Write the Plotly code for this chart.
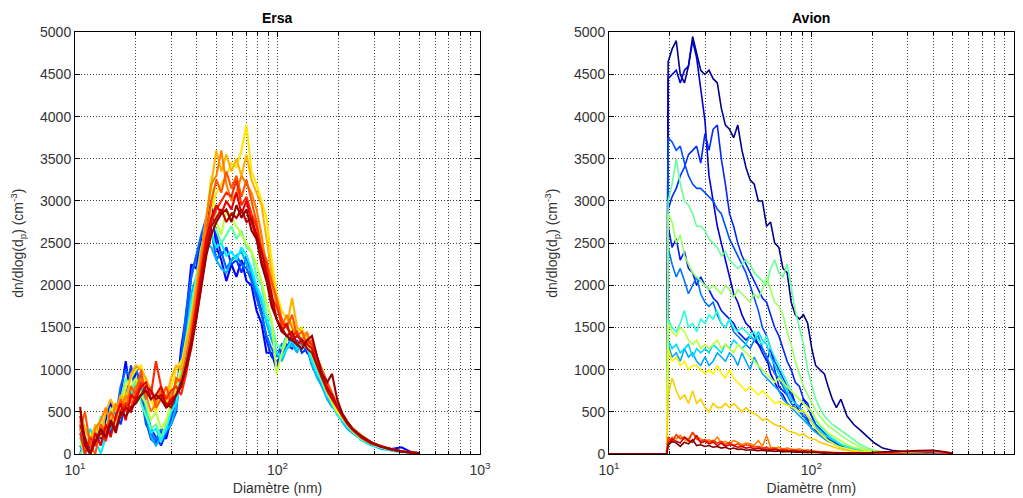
import plotly.graph_objects as go

# ---------------- data: Ersa (ground station) ----------------
diam_ersa = [10.6, 11.2, 11.9, 12.6, 13.4, 14.2, 15.0, 15.9, 16.8, 17.8,
             18.9, 20.0, 21.2, 22.4, 23.7, 25.1, 26.6, 28.2, 29.8, 31.6,
             33.4, 35.4, 37.5, 39.7, 42.0, 44.5, 47.1, 49.9, 52.8, 55.9,
             59.2, 62.7, 66.4, 70.3, 74.4, 78.8, 83.4, 88.3, 93.5, 99.0,
             105, 111, 118, 125, 132, 140, 148, 157, 166, 176,
             186, 197, 209, 221, 234, 260, 290, 325, 365, 410, 455, 500]

ersa_01 = [0, 150, 60, 250, 180, 400, 620, 380, 700, 1100,
           650, 1000, 820, 400, 180, 120, 260, 180, 420, 650,
           1250, 1650, 2250, 2200, 2550, 2700, 3000, 2450, 2300, 2050,
           2250, 2100, 2300, 2050, 2000, 1700, 1550, 1200, 1200, 1000,
           1250, 1400, 1300, 1250, 1350, 1200, 1150, 1000, 850, 750,
           620, 520, 420, 340, 290, 200, 140, 90, 60, 80, 25, 10]
ersa_15 = [100, 0, 150, 300, 200, 350, 250, 500, 350, 600,
           1050, 700, 950, 550, 300, 200, 100, 250, 350, 500,
           1100, 1500, 2100, 2350, 2450, 2650, 2800, 2600, 2350, 2450,
           2250, 2300, 2150, 2350, 2100, 1900, 1700, 1350, 1150, 1100,
           1150, 1300, 1250, 1350, 1200, 1250, 1050, 950, 800, 700,
           600, 520, 400, 330, 260, 180, 120, 85, 50, 30, 20, 5]
ersa_02 = [300, 100, 0, 200, 350, 280, 500, 450, 800, 1000,
           900, 1050, 700, 350, 250, 150, 300, 250, 450, 700,
           1100, 1700, 2100, 2350, 2600, 2800, 2650, 2300, 2400, 2200,
           2300, 2350, 2250, 2200, 2050, 1850, 1650, 1400, 1250, 1150,
           1300, 1250, 1400, 1300, 1250, 1300, 1100, 950, 800, 700,
           600, 480, 420, 330, 260, 190, 120, 80, 55, 30, 20, 8]
ersa_03 = [100, 0, 200, 300, 100, 250, 300, 550, 450, 750,
           800, 650, 900, 500, 200, 100, 200, 280, 350, 550,
           1000, 1400, 1900, 2100, 2350, 2500, 2450, 2300, 2200, 2150,
           2300, 2350, 2400, 2250, 2150, 1950, 1800, 1550, 1350, 1200,
           1100, 1250, 1300, 1200, 1400, 1300, 1050, 900, 800, 650,
           560, 500, 380, 300, 250, 170, 110, 60, 45, 25, 15, 5]
ersa_04 = [200, 0, 300, 150, 0, 200, 400, 300, 600, 500,
           700, 900, 750, 600, 250, 300, 150, 300, 500, 600,
           950, 1300, 1800, 2000, 2300, 2500, 2600, 2450, 2500, 2350,
           2400, 2300, 2450, 2350, 2200, 2000, 1850, 1600, 1450, 1200,
           1150, 1250, 1350, 1250, 1300, 1250, 1100, 950, 850, 700,
           600, 460, 400, 320, 270, 160, 100, 75, 40, 20, 15, 5]
ersa_05 = [0, 100, 200, 150, 450, 300, 550, 400, 650, 900,
           750, 850, 600, 450, 300, 350, 200, 350, 550, 750,
           1000, 1350, 1700, 2100, 2450, 2650, 2800, 2650, 2500, 2600,
           2700, 2550, 2650, 2450, 2400, 2100, 2000, 1650, 1550, 1300,
           1250, 1400, 1450, 1300, 1350, 1300, 1150, 1000, 850, 700,
           620, 500, 420, 340, 270, 200, 130, 90, 50, 30, 15, 5]
ersa_06 = [150, 0, 250, 100, 300, 200, 450, 350, 600, 700,
           800, 900, 700, 600, 400, 500, 300, 400, 600, 800,
           1050, 1350, 1650, 2000, 2400, 2800, 3300, 2750, 2600, 2900,
           2800, 2700, 2600, 2500, 2400, 2250, 2050, 1800, 1600, 950,
           1200, 1350, 1500, 1400, 1400, 1350, 1200, 1050, 900, 750,
           600, 500, 430, 350, 280, 180, 120, 80, 50, 30, 20, 5]
ersa_07 = [300, 200, 0, 250, 400, 300, 500, 600, 550, 800,
           900, 1000, 1050, 850, 650, 500, 700, 600, 800, 1000,
           1100, 1000, 1400, 1800, 2200, 2600, 2900, 3100, 3200, 3300,
           3450, 3400, 3600, 3900, 3350, 3200, 3000, 2800, 2300, 1900,
           1700, 1600, 1550, 1450, 1500, 1300, 1250, 1100, 900, 750,
           650, 520, 430, 350, 280, 190, 130, 85, 55, 30, 20, 8]
ersa_08 = [500, 300, 150, 350, 200, 500, 650, 500, 700, 600,
           950, 1050, 1000, 900, 750, 600, 800, 650, 900, 1050,
           1000, 1300, 1600, 2000, 2400, 2800, 3200, 3600, 3350, 3550,
           3350, 3500, 3300, 3550, 3250, 3100, 2950, 2550, 2150, 1750,
           1600, 1500, 1850, 1500, 1450, 1400, 1250, 1100, 950, 800,
           650, 560, 450, 350, 300, 200, 130, 85, 50, 30, 18, 8]
ersa_09 = [400, 100, 0, 300, 400, 550, 350, 600, 500, 700,
           600, 800, 900, 700, 500, 600, 750, 550, 700, 850,
           900, 1100, 1500, 1900, 2350, 2800, 3200, 3300, 3600, 3200,
           3000, 3100, 3300, 3200, 3100, 2900, 2600, 2200, 2000, 1800,
           1500, 1650, 1500, 1400, 1350, 1450, 1250, 1100, 950, 800,
           700, 580, 470, 380, 300, 210, 140, 90, 55, 30, 20, 8]
ersa_14 = [300, 500, 100, 0, 350, 250, 500, 400, 650, 500,
           800, 700, 1000, 650, 800, 550, 650, 800, 600, 900,
           850, 1150, 1450, 1800, 2250, 2600, 3000, 3250, 3100, 3350,
           3150, 3300, 3050, 3250, 3000, 2750, 2450, 2300, 2050, 1850,
           1600, 1500, 1650, 1400, 1450, 1300, 1350, 1150, 1000, 850,
           720, 600, 480, 390, 310, 220, 140, 95, 55, 35, 20, 8]
ersa_10 = [250, 0, 200, 100, 300, 150, 400, 300, 500, 600,
           550, 700, 850, 750, 700, 1100, 800, 650, 750, 800,
           700, 950, 1300, 1700, 2100, 2450, 2750, 2900, 3000, 3100,
           3050, 3250, 2950, 3050, 2850, 2700, 2400, 2250, 1850, 1750,
           1550, 1500, 1400, 1450, 1300, 1350, 1300, 1150, 950, 800,
           680, 570, 460, 370, 290, 200, 130, 90, 55, 30, 15, 5]
ersa_11 = [350, 150, 0, 250, 100, 350, 200, 450, 600, 400,
           700, 650, 800, 850, 650, 700, 800, 550, 650, 700,
           800, 1050, 1350, 1750, 2150, 2550, 2800, 2950, 2850, 3000,
           2900, 3100, 2850, 3000, 2750, 2550, 2300, 2100, 1800, 1600,
           1450, 1550, 1350, 1400, 1350, 1300, 1250, 1050, 900, 750,
           650, 550, 450, 360, 290, 190, 125, 85, 50, 30, 15, 5]
ersa_12 = [450, 200, 0, 150, 250, 200, 350, 300, 450, 550,
           500, 650, 700, 800, 750, 650, 700, 600, 550, 700,
           850, 1000, 1250, 1600, 2000, 2400, 2700, 2800, 2900, 2750,
           2850, 2800, 2900, 2750, 2800, 2600, 2400, 2150, 1900, 1600,
           1500, 1400, 1450, 1300, 1350, 1250, 1200, 1050, 900, 780,
           700, 560, 450, 370, 300, 200, 130, 85, 55, 30, 15, 5]
ersa_13 = [560, 100, 0, 150, 300, 200, 400, 250, 500, 450,
           550, 600, 700, 750, 650, 700, 650, 550, 600, 700,
           800, 1050, 1300, 1600, 1950, 2350, 2600, 2750, 2850, 2900,
           2750, 2950, 2800, 2900, 2650, 2550, 2250, 2050, 1750, 1600,
           1450, 1400, 1350, 1300, 1250, 1350, 1400, 1150, 950, 850,
           950, 650, 480, 380, 300, 210, 140, 85, 55, 30, 20, 10]

ersa_series = [ersa_01, ersa_15, ersa_02, ersa_03, ersa_04, ersa_05, ersa_06, ersa_07,
               ersa_08, ersa_09, ersa_14, ersa_10, ersa_11, ersa_12, ersa_13]
ersa_colors = ["#0000ff", "#0033ff", "#0066ff", "#00b3ff", "#00f2ff", "#59ffa6", "#bfff40",
               "#ffe600", "#ffb300", "#ff8000", "#ff5500", "#ff2600", "#e60000", "#bf0000",
               "#990000"]

# ---------------- data: Avion (aircraft) ----------------
diam_avion = [10, 19.3,
              19.6, 20.5, 21.5, 22.5, 23.6, 24.7, 25.9, 27.1, 28.4, 29.8,
              31.2, 32.7, 34.3, 35.9, 37.6, 39.4, 41.3, 43.3, 45.4, 47.5,
              49.8, 52.2, 54.7, 57.3, 60.1, 62.9, 65.9, 69.1, 72.4, 75.9,
              79.5, 83.3, 87.3, 91.5, 95.9, 100.5, 105, 110, 116, 121,
              127, 133, 140, 150, 162, 175, 190, 205, 225, 250,
              290, 340, 400, 450, 500]

avion_01 = [0, 0,
            4650, 4800, 4900, 4500, 4400, 4600, 4950, 4750, 4550, 4500,
            4550, 4450, 4400, 4100, 3900, 3850, 3750, 3900, 3600, 3400,
            3250, 3200, 3000, 3000, 2700, 2750, 2500, 2450, 2200, 2150,
            1800, 1650, 1600, 1650, 1550, 1250, 1050, 1000, 950, 800,
            650, 550, 650, 450, 350, 280, 200, 130, 70, 45,
            25, 15, 10, 8, 5]
avion_02 = [0, 0,
            4450, 4500, 4550, 4400, 4550, 4600, 4900, 4700, 4300, 3950,
            3300, 3000, 2700, 2500, 2300, 2100, 1900, 1800, 1650, 1550,
            1500, 1400, 1300, 1250, 1150, 950, 850, 750, 700, 600,
            550, 600, 500, 450, 400, 300, 280, 230, 200, 170,
            150, 120, 100, 80, 60, 45, 30, 20, 15, 10,
            5, 5, 3, 2, 0]
avion_03 = [0, 0,
            2900, 3050, 3150, 3300, 3400, 3550, 3600, 3650, 3450, 3800,
            3600, 3850, 3900, 3500, 3200, 2850, 2700, 2500, 2350, 2250,
            2150, 2050, 1950, 1850, 1800, 1650, 1500, 1400, 1250, 1100,
            1000, 850, 800, 650, 600, 450, 350, 300, 250, 200,
            170, 140, 110, 80, 60, 40, 30, 20, 15, 10,
            5, 3, 2, 2, 0]
avion_04 = [0, 0,
            3750, 3700, 3600, 3650, 3450, 3300, 3200, 3150, 3150, 3100,
            3050, 3000, 2900, 2850, 2700, 2550, 2450, 2350, 2250, 2150,
            2000, 1850, 1700, 1500, 1400, 1250, 1100, 1000, 900, 800,
            700, 600, 550, 500, 420, 380, 300, 250, 200, 180,
            150, 120, 100, 70, 50, 40, 25, 15, 10, 5,
            3, 2, 0, 0, 0]
avion_05 = [0, 0,
            2700, 2450, 2550, 2300, 2400, 2200, 2150, 2000, 2100, 2000,
            1950, 1850, 1800, 1700, 1650, 1600, 1550, 1450, 1400, 1350,
            1400, 1350, 1300, 1200, 1100, 1250, 1000, 800, 750, 700,
            750, 600, 550, 650, 550, 450, 350, 300, 250, 200,
            170, 130, 100, 80, 60, 40, 25, 15, 10, 5,
            3, 2, 0, 0, 0]
avion_06 = [0, 0,
            2450, 2250, 2100, 2200, 2050, 1900, 2000, 2100, 1900, 1800,
            1750, 1800, 1650, 1550, 1500, 1600, 1450, 1400, 1350, 1300,
            1250, 1350, 1400, 1250, 1150, 1050, 950, 900, 800, 700,
            600, 550, 500, 450, 380, 300, 260, 230, 180, 150,
            130, 110, 80, 70, 50, 35, 25, 15, 10, 5,
            3, 2, 0, 0, 0]
avion_07 = [0, 0,
            1300, 1150, 1200, 1100, 1250, 1150, 1200, 1100, 1050, 1150,
            1050, 1100, 1200, 1150, 1100, 1200, 1150, 1050, 1200, 1100,
            1000, 1150, 1050, 950, 900, 850, 800, 750, 650, 600,
            550, 500, 450, 400, 350, 300, 260, 220, 180, 150,
            130, 100, 80, 60, 45, 30, 20, 15, 10, 5,
            3, 2, 0, 0, 0]
avion_08 = [0, 0,
            1350, 1250, 1300, 1200, 1250, 1300, 1150, 1250, 1200, 1250,
            1200, 1300, 1250, 1200, 1300, 1250, 1350, 1300, 1250, 1300,
            1400, 1350, 1450, 1350, 1300, 1150, 1050, 950, 850, 750,
            650, 600, 550, 500, 450, 400, 330, 280, 230, 200,
            170, 140, 110, 80, 60, 45, 30, 20, 12, 6,
            4, 2, 0, 0, 0]
avion_09 = [0, 0,
            1600, 1500, 1450, 1550, 1700, 1500, 1550, 1450, 1600, 1550,
            1650, 1600, 1700, 1550, 1500, 1600, 1500, 1450, 1500, 1450,
            1400, 1450, 1350, 1300, 1400, 1250, 1150, 1050, 950, 850,
            750, 700, 650, 600, 550, 500, 400, 330, 280, 230,
            190, 160, 120, 90, 70, 50, 35, 25, 15, 8,
            4, 2, 0, 0, 0]
avion_10 = [0, 0,
            3000, 3200, 3500, 3200, 3000, 2950, 2850, 2700, 2700, 2650,
            2550, 2500, 2450, 2350, 2400, 2300, 2250, 2200, 2250, 2300,
            2250, 2150, 2100, 2050, 2000, 2200, 2300, 2150, 2100, 2250,
            1950, 1700, 1500, 1300, 1000, 800, 650, 550, 450, 400,
            350, 320, 280, 220, 170, 110, 70, 45, 25, 15,
            8, 4, 2, 0, 0]
avion_11 = [0, 0,
            2850, 2750, 2500, 2600, 2350, 2250, 2150, 2100, 2050, 2000,
            1950, 2000, 1950, 1900, 2000, 1950, 1850, 1950, 1900, 1850,
            1800, 1900, 1850, 1950, 2100, 1950, 1800, 1750, 1650, 1450,
            1300, 1100, 950, 800, 700, 600, 520, 450, 380, 330,
            300, 260, 220, 170, 120, 80, 50, 35, 20, 10,
            6, 3, 0, 0, 0]
avion_12 = [0, 0,
            1550, 1450, 1400, 1500, 1450, 1350, 1300, 1350, 1250, 1300,
            1250, 1300, 1350, 1250, 1300, 1250, 1200, 1300, 1250, 1200,
            1150, 1100, 1050, 1000, 950, 900, 850, 900, 850, 800,
            750, 700, 650, 600, 550, 500, 420, 350, 300, 250,
            220, 190, 150, 110, 80, 55, 35, 25, 15, 8,
            5, 3, 0, 0, 0]
avion_13 = [0, 0,
            1250, 1100, 1150, 1050, 1100, 1000, 1050, 1050, 1000, 950,
            1000, 950, 1050, 950, 900, 1000, 900, 850, 800, 750,
            800, 750, 700, 750, 700, 650, 600, 620, 600, 580,
            560, 540, 500, 520, 450, 380, 300, 250, 200, 160,
            130, 100, 80, 60, 45, 30, 20, 15, 10, 5,
            3, 2, 0, 0, 0]
avion_14 = [0, 0,
            700, 900, 750, 650, 700, 600, 750, 600, 650, 550,
            500, 600, 550, 550, 600, 550, 600, 550, 500, 550,
            500, 480, 450, 400, 420, 380, 350, 330, 320, 280,
            260, 250, 220, 240, 200, 180, 170, 140, 120, 100,
            80, 70, 55, 40, 30, 20, 15, 10, 5, 3,
            2, 0, 0, 0, 0]
avion_15 = [0, 0,
            150, 200, 180, 220, 170, 150, 250, 200, 180, 150,
            170, 140, 200, 130, 150, 120, 160, 140, 110, 130,
            120, 100, 160, 90, 220, 80, 70, 80, 60, 70,
            60, 50, 60, 45, 50, 40, 35, 30, 25, 20,
            20, 15, 15, 10, 10, 8, 5, 5, 3, 2,
            2, 0, 0, 0, 0]
avion_16 = [0, 0,
            200, 150, 230, 180, 200, 170, 260, 180, 150, 170,
            140, 160, 130, 150, 110, 140, 100, 120, 90, 110,
            100, 80, 90, 70, 80, 60, 70, 50, 55, 45,
            40, 50, 35, 40, 30, 30, 25, 20, 20, 15,
            15, 12, 10, 8, 8, 5, 5, 5, 3, 3,
            2, 2, 0, 0, 0]
avion_17 = [0, 0,
            120, 180, 150, 130, 200, 160, 140, 220, 130, 150,
            120, 140, 100, 130, 90, 110, 100, 80, 90, 70,
            80, 60, 70, 55, 60, 45, 55, 40, 45, 35,
            40, 35, 30, 35, 30, 25, 25, 20, 20, 15,
            15, 15, 10, 10, 10, 8, 10, 15, 20, 25,
            30, 35, 40, 30, 10]
avion_18 = [0, 0,
            100, 150, 130, 90, 140, 120, 170, 100, 110, 90,
            100, 80, 90, 70, 80, 60, 70, 55, 60, 45,
            50, 45, 40, 45, 35, 40, 30, 35, 25, 30,
            25, 20, 25, 20, 15, 20, 15, 15, 10, 15,
            10, 10, 15, 10, 10, 15, 10, 20, 25, 30,
            35, 40, 45, 25, 5]

avion_series = [avion_01, avion_02, avion_03, avion_04, avion_05, avion_06,
                avion_07, avion_08, avion_09, avion_10, avion_11, avion_12,
                avion_13, avion_14, avion_15, avion_16, avion_17, avion_18]
avion_colors = ["#00008c", "#0000d9", "#0026ff", "#004dff", "#0019f2", "#0073ff",
                "#00a6ff", "#00d9ff", "#26ffd9", "#66ff99", "#99ff66", "#bfff40",
                "#fff200", "#ffcc00", "#ff8000", "#ff3300", "#cc0000", "#800000"]

y_ticks = [0, 500, 1000, 1500, 2000, 2500, 3000, 3500, 4000, 4500, 5000]
x_ticks = [10, 100, 1000]
x_ticktext = ["10<sup>1</sup>", "10<sup>2</sup>", "10<sup>3</sup>"]
x_minor = [20, 30, 40, 50, 60, 70, 80, 90, 200, 300, 400, 500, 600, 700, 800, 900]

for s in ersa_series:
    assert len(s) == len(diam_ersa)
for s in avion_series:
    assert len(s) == len(diam_avion)

fig = go.Figure()
for ys, c in zip(ersa_series, ersa_colors):
    fig.add_trace(go.Scatter(x=diam_ersa, y=ys, mode="lines", xaxis="x", yaxis="y",
                             line=dict(color=c, width=2.1), showlegend=False, hoverinfo="skip"))
for ys, c in zip(avion_series, avion_colors):
    fig.add_trace(go.Scatter(x=diam_avion, y=ys, mode="lines", xaxis="x2", yaxis="y2",
                             line=dict(color=c, width=1.6), showlegend=False, hoverinfo="skip"))

FONT = "Liberation Sans, Arial, sans-serif"
grid_col = "rgba(0,0,0,0.75)"
GRID_DASH = "1px,2px"
W, H = 1015, 490   # page body keeps an 8px margin

def xaxis_cfg(domain, anchor):
    return dict(domain=domain, anchor=anchor, type="log", range=[1, 3],
                tickmode="array", tickvals=x_ticks, ticktext=x_ticktext,
                ticks="inside", ticklen=5, tickcolor="black", ticklabelstandoff=3,
                showline=True, linecolor="black", linewidth=1, mirror="ticks",
                showgrid=True, gridcolor=grid_col, griddash=GRID_DASH, gridwidth=1,
                minor=dict(tickmode="array", tickvals=x_minor, ticks="inside", ticklen=3,
                           tickcolor="black", showgrid=True, gridcolor=grid_col,
                           griddash=GRID_DASH, gridwidth=1),
                zeroline=False, automargin=False,
                tickfont=dict(family=FONT, size=14, color="#333"),
                title=dict(text="Diamètre (nm)", font=dict(family=FONT, size=14, color="#333"),
                           standoff=6))

def yaxis_cfg(anchor):
    return dict(domain=[1 - 446 / H, 1 - 24.3 / H], anchor=anchor, range=[0, 5000],
                tickmode="array", tickvals=y_ticks,
                ticks="inside", ticklen=5, tickcolor="black",
                showline=True, linecolor="black", linewidth=1, mirror="ticks",
                showgrid=True, gridcolor=grid_col, griddash=GRID_DASH, gridwidth=1,
                zeroline=False, automargin=False,
                tickfont=dict(family=FONT, size=14, color="#333"),
                title=dict(text="dn/dlog(d<sub>p</sub>) (cm<sup>-3</sup>)",
                           font=dict(family=FONT, size=14, color="#333"), standoff=13))

xl = [67 / W, 472 / W]
xr = [601 / W, 1005.7 / W]

fig.update_layout(
    width=W, height=H,
    margin=dict(l=0, r=0, t=0, b=0),
    paper_bgcolor="white", plot_bgcolor="white",
    xaxis=xaxis_cfg(xl, "y"),
    yaxis=yaxis_cfg("x"),
    xaxis2=xaxis_cfg(xr, "y2"),
    yaxis2=yaxis_cfg("x2"),
    annotations=[
        dict(text="<b>Ersa</b>", x=sum(xl) / 2, y=1 - 10 / H, xref="paper", yref="paper",
             xanchor="center", yanchor="middle",
             showarrow=False, font=dict(family=FONT, size=14, color="black")),
        dict(text="<b>Avion</b>", x=sum(xr) / 2, y=1 - 10 / H, xref="paper", yref="paper",
             xanchor="center", yanchor="middle",
             showarrow=False, font=dict(family=FONT, size=14, color="black")),
    ],
)

fig.write_html("out.html")
